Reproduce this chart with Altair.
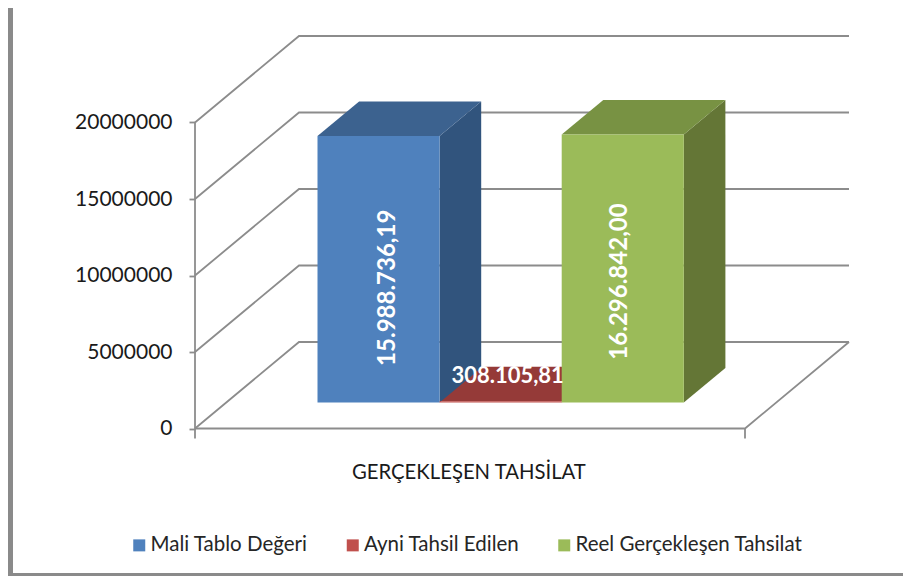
import altair as alt
import pandas as pd

# --- values -------------------------------------------------------------
series = ["Mali Tablo Değeri", "Ayni Tahsil Edilen", "Reel Gerçekleşen Tahsilat"]
value_labels = ["15.988.736,19", "308.105,81", "16.296.842,00"]
# drawn heights, read against the axis (the 3-D bars stand taller than their labels)
bar_heights = [17420000, 80000, 17520000]
axis_values = [0, 5000000, 10000000, 15000000, 20000000]
category = "GERÇEKLEŞEN TAHSİLAT"

# --- styles --------------------------------------------------------------
front_colors = ["#4F81BD", "#C0504D", "#9BBB59"]
top_colors = ["#3C628F", "#953A38", "#789243"]
side_colors = ["#31547D", "#7A2E2C", "#647636"]
grid_color = "#8C8C8C"
frame_color = "#8A8A8A"
font = "Lato"

# --- layout: oblique projection in axis units -----------------------------
W, H = 895, 568
PX_X = 550.0              # pixels per category-axis unit
PX_Y = 306.0 / 20000000   # pixels per value unit
X0, Y0 = 195 - 8, 428.5 - 8
DEPTH_X = 104 / PX_X
DEPTH_Y = 86.5 / PX_Y
GAP = 0.166
BAR_W = 0.222
D0, D1 = 0.3, 0.7
x_scale = alt.Scale(domain=[-X0 / PX_X, (W - X0) / PX_X], range=[0, W], nice=False, zero=False)
y_scale = alt.Scale(domain=[(Y0 - H) / PX_Y, Y0 / PX_Y], range=[H, 0], nice=False, zero=False)
y_axis = alt.Axis(
    values=axis_values, format="d", title=None, grid=False, domain=False,
    offset=-X0, tickSize=6, tickWidth=1.8, tickColor=grid_color,
    labelFont=font, labelFontSize=21, labelColor="#1a1a1a", labelPadding=17)
X = alt.X("x:Q", scale=x_scale, axis=None)
Y = alt.Y("y:Q", scale=y_scale, axis=y_axis)


def proj(x, y, d):
    return x + d * DEPTH_X, y + d * DEPTH_Y


# walls and floor
rows = []
for v in axis_values:
    for i, (x, d) in enumerate([(0, 0), (0, 1), (1, 1)]):
        px, py = proj(x, v, d)
        rows.append({"k": f"g{v}", "i": i, "x": px, "y": py})
for i, (x, d) in enumerate([(0, 0), (1, 0), (1, 1)]):
    px, py = proj(x, 0, d)
    rows.append({"k": "floor", "i": i, "x": px, "y": py})
grid = alt.Chart(pd.DataFrame(rows)).mark_line(color=grid_color, strokeWidth=1.8).encode(
    x=X, y=Y, detail="k:N", order="i:Q")

# axis line and the two category ticks drawn as rules
tick_len = 10 / PX_Y
rules = alt.Chart(pd.DataFrame([
    {"x": 0, "y": -tick_len, "y2": axis_values[-1]},
    {"x": 1, "y": -tick_len, "y2": 0},
])).mark_rule(color=grid_color, strokeWidth=1.8).encode(x=X, y=Y, y2="y2:Q")

# bars
front_rows, faces = [], []
for n, h in enumerate(bar_heights):
    left = GAP + n * BAR_W
    right = left + BAR_W
    x0, b0 = proj(left, 0, D0)
    x1, _ = proj(right, 0, D0)
    t0 = b0 + h
    ox = (D1 - D0) * DEPTH_X
    oy = (D1 - D0) * DEPTH_Y
    front_rows.append({"x": x0, "x2": x1, "y": b0, "y2": t0, "s": series[n]})
    side = pd.DataFrame([
        {"x": x1, "y": b0, "y2": t0},
        {"x": x1 + ox, "y": b0 + oy, "y2": t0 + oy},
    ])
    top = pd.DataFrame([
        {"x": x0, "y": t0, "y2": t0},
        {"x": x0 + ox, "y": t0, "y2": t0 + oy},
        {"x": x1, "y": t0, "y2": t0 + oy},
        {"x": x1 + ox, "y": t0 + oy, "y2": t0 + oy},
    ])
    faces.append((n, side, top))

face_layers = []
for n, side, top in sorted(faces, key=lambda f: [1, 0, 2][f[0]]):
    face_layers.append(alt.Chart(side).mark_area(color=side_colors[n], orient="vertical").encode(x=X, y=Y, y2="y2:Q"))
    face_layers.append(alt.Chart(top).mark_area(color=top_colors[n], orient="vertical").encode(x=X, y=Y, y2="y2:Q"))

front = alt.Chart(pd.DataFrame(front_rows)).mark_rect().encode(
    x=X, x2="x2:Q", y=Y, y2="y2:Q",
    color=alt.Color("s:N", scale=alt.Scale(domain=series, range=front_colors), legend=alt.Legend(
        title=None, orient="none", legendX=121, legendY=527, direction="horizontal", columns=3,
        columnPadding=34.5, symbolType="square", symbolSize=144, symbolStrokeWidth=0, labelOffset=1,
        labelLimit=400, labelFont=font, labelFontSize=20.5, labelColor="#262626")))

# value labels (dx runs along the text, dy across it)
label_layers = []
label_style = [(270, -18.5, 9, 24), (0, 7, -26, 22), (270, -13, -3, 24)]
for n, (fr, (angle, dx, dy, size)) in enumerate(zip(front_rows, label_style)):
    d = pd.DataFrame([{"x": (fr["x"] + fr["x2"]) / 2, "y": (fr["y"] + fr["y2"]) / 2, "t": value_labels[n]}])
    label_layers.append(alt.Chart(d).mark_text(
        color="white", font=font, fontWeight="bold", fontSize=size, angle=angle,
        align="center", baseline="middle", dx=dx, dy=dy).encode(x=X, y=Y, text="t:N"))

cat_text = alt.Chart(pd.DataFrame({"x": [0.498], "y": [-44.5 / PX_Y], "t": [category]})).mark_text(
    color="#1a1a1a", font=font, fontSize=20.3, align="center", baseline="middle").encode(x=X, y=Y, text="t:N")

# outer frame of the picture
frame = alt.Chart(pd.DataFrame([
    {"x": (10.5 - 8 - X0) / PX_X, "y": (Y0 - H) / PX_Y, "y2": Y0 / PX_Y},
])).mark_rule(color=frame_color, strokeWidth=5).encode(x=X, y=Y, y2="y2:Q")
frame_bottom = alt.Chart(pd.DataFrame([
    {"x": -X0 / PX_X, "x2": (W - X0) / PX_X, "y": (Y0 - (H - 1.5)) / PX_Y},
])).mark_rule(color=frame_color, strokeWidth=3).encode(x=X, x2="x2:Q", y=Y)

chart = alt.layer(frame, frame_bottom, grid, rules, *face_layers, front, *label_layers, cat_text).properties(
    width=W, height=H, padding=0, autosize=alt.AutoSizeParams(type="none"), background="white"
).configure_view(stroke=None)

chart.save("out.html", embed_options={"renderer": "svg", "actions": False})
